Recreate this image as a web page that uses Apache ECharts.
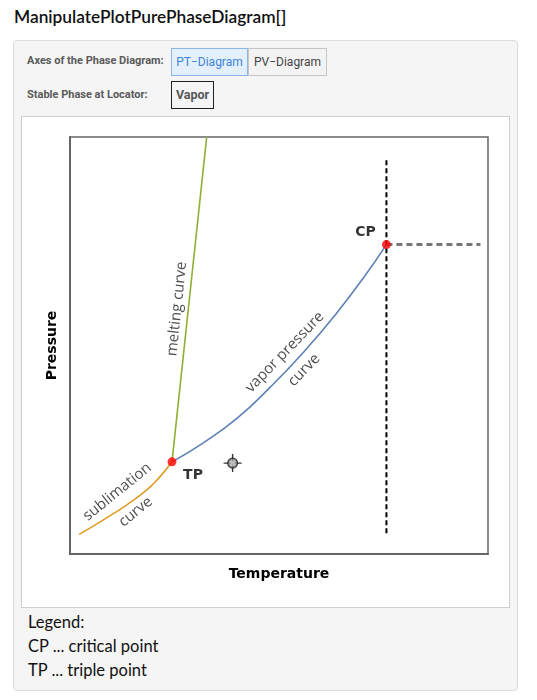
<!DOCTYPE html>
<html>
<head>
<meta charset="utf-8">
<script src="https://cdn.jsdelivr.net/npm/echarts@6/dist/echarts.min.js"></script>
<style>
  html, body { margin: 0; padding: 0; background: #fff; }
  body { width: 537px; height: 700px; position: relative; overflow: hidden; font-family: Lato, "Noto Sans", sans-serif; }
  #title { position: absolute; left: 14px; top: 6px; font-size: 17.3px; color: #111; font-family: Lato, sans-serif; font-weight: 600; }
  #panel { position: absolute; left: 13px; top: 40px; width: 503px; height: 649px; background: #f5f5f5; border: 1px solid #dcdcdc; border-radius: 4px; }
  .lbl { position: absolute; left: 27px; font-family: Roboto, sans-serif; font-weight: bold; font-size: 11px; color: #5a5a5a; }
  .btn { position: absolute; top: 48px; height: 26px; line-height: 26px; text-align: center; font-family: Roboto, sans-serif; font-size: 12px; box-sizing: content-box; }
  #bt1 { left: 171px; width: 75px; background: #e4effc; border: 1px solid #8db6e8; color: #3c84d6; }
  #bt2 { left: 248px; width: 77px; background: #f3f3f3; border: 1px solid #c6c6c6; color: #444; }
  #phase { position: absolute; left: 171px; top: 81px; width: 41px; height: 26px; line-height: 26px; border: 1px solid #222; text-align: center; font-family: Roboto, sans-serif; font-weight: bold; font-size: 12.5px; color: #555; }
  #box { position: absolute; left: 21px; top: 116px; width: 487px; height: 490px; background: #fff; border: 1px solid #cfcfcf; }
  #chart { position: absolute; left: 22px; top: 117px; width: 486px; height: 489px; }
  #legend { position: absolute; left: 28px; top: 610px; font-family: Lato, sans-serif; font-size: 16.5px; line-height: 24px; color: #111; }
</style>
</head>
<body>
<div id="title">ManipulatePlotPurePhaseDiagram[]</div>
<div id="panel"></div>
<div class="lbl" style="top:54px;">Axes of the Phase Diagram:</div>
<div class="btn" id="bt1">PT−Diagram</div>
<div class="btn" id="bt2">PV−Diagram</div>
<div class="lbl" style="top:88px;">Stable Phase at Locator:</div>
<div id="phase">Vapor</div>
<div id="box"></div>
<div id="chart"></div>
<div id="legend">Legend:<br>CP ... critical point<br>TP ... triple point</div>
<script>
// ---- data (arbitrary units: temperature 0..100, pressure 0..100) ----
var sublimationT = [2.2, 8.0, 13.6, 18.3, 21.5, 24.4];
var sublimationP = [4.7, 8.2, 11.8, 15.3, 18.5, 22.1];

var vaporT = [24.4, 31.8, 40.0, 47.8, 55.7, 63.9, 70.6, 75.7];
var vaporP = [22.1, 26.6, 32.6, 39.9, 48.2, 57.9, 66.8, 74.2];

var meltingT = [24.4, 32.7];
var meltingP = [22.1, 100];

var pointNames = ["TP", "CP"];
var pointT = [24.4, 75.7];
var pointP = [22.1, 74.2];

var criticalVertT = [75.7, 75.7];
var criticalVertP = [5.0, 95.0];
var criticalHorT = [75.7, 98.2];
var criticalHorP = [74.2, 74.2];

var locatorT = [38.9];
var locatorP = [21.8];

var curveLabels = ["melting curve", "vapor pressure", "curve", "sublimation", "curve"];
var curveLabelT = [25.6, 51.4, 56.0, 11.3, 15.7];
var curveLabelP = [58.8, 48.4, 44.1, 14.9, 10.1];
var curveLabelAngle = [84, 46, 46, 39, 39];

var axisNames = ["Temperature", "Pressure"];

function zip(a, b) { return a.map(function (v, i) { return [v, b[i]]; }); }

var chart = echarts.init(document.getElementById('chart'), null, { renderer: 'canvas' });

var labelData = curveLabels.map(function (t, i) {
  return {
    value: [curveLabelT[i], curveLabelP[i]],
    label: { show: true, formatter: t, rotate: curveLabelAngle[i] }
  };
});

var pointData = pointNames.map(function (n, i) {
  return {
    value: [pointT[i], pointP[i]],
    label: {
      show: true, formatter: n, position: 'inside',
      offset: n === 'CP' ? [-21, -12] : [21, 14],
      fontFamily: 'DejaVu Sans', fontWeight: 'bold', fontSize: 14, color: '#000'
    }
  };
});

var option = {
  animation: false,
  grid: { left: 48, top: 20, width: 418, height: 417, show: true, borderColor: '#666', borderWidth: 1.5, backgroundColor: 'transparent' },
  xAxis: {
    type: 'value', min: 0, max: 100,
    name: axisNames[0], nameLocation: 'middle', nameGap: 13,
    nameTextStyle: { fontFamily: 'DejaVu Sans', fontWeight: 'bold', fontSize: 14, color: '#000' },
    axisLine: { show: true, lineStyle: { color: '#666', width: 2 } },
    axisTick: { show: false }, axisLabel: { show: false }, splitLine: { show: false }
  },
  yAxis: {
    type: 'value', min: 0, max: 100,
    name: axisNames[1], nameLocation: 'middle', nameGap: 11,
    nameTextStyle: { fontFamily: 'DejaVu Sans', fontWeight: 'bold', fontSize: 14, color: '#000' },
    axisLine: { show: true, lineStyle: { color: '#666', width: 2 } },
    axisTick: { show: false }, axisLabel: { show: false }, splitLine: { show: false }
  },
  series: [
    {
      type: 'line', name: 'sublimation', data: zip(sublimationT, sublimationP),
      smooth: 0.5, showSymbol: false, lineStyle: { color: '#e19c24', width: 1.6 }, z: 3
    },
    {
      type: 'line', name: 'vapor', data: zip(vaporT, vaporP),
      smooth: 0.5, showSymbol: false, lineStyle: { color: '#5e81b5', width: 1.6 }, z: 3
    },
    {
      type: 'line', name: 'melting', data: zip(meltingT, meltingP),
      showSymbol: false, lineStyle: { color: '#8fb032', width: 1.6 }, z: 3
    },
    {
      type: 'line', name: 'critT', data: zip(criticalVertT, criticalVertP),
      showSymbol: false, lineStyle: { color: '#000', width: 2, type: [5, 3] }, z: 2
    },
    {
      type: 'line', name: 'critP', data: zip(criticalHorT, criticalHorP),
      showSymbol: false, lineStyle: { color: '#777', width: 3, type: [6, 4] }, z: 2
    },
    {
      type: 'scatter', name: 'points', data: pointData,
      symbol: 'circle', symbolSize: 9, itemStyle: { color: '#ff0000' }, z: 5
    },
    {
      type: 'scatter', name: 'curveLabels', data: labelData, symbolSize: 0, silent: true,
      label: { position: 'inside', fontFamily: 'Open Sans', fontSize: 15, color: '#222', align: 'center', verticalAlign: 'middle' },
      z: 6
    },
    {
      type: 'scatter', name: 'locatorCross', data: zip(locatorT, locatorP),
      symbol: 'path://M0,8.3h18v1.4h-18z M8.3,0h1.4v18h-1.4z', symbolSize: 18,
      itemStyle: { color: '#000' }, z: 7
    },
    {
      type: 'scatter', name: 'locatorRing', data: zip(locatorT, locatorP),
      symbol: 'circle', symbolSize: 10,
      itemStyle: {
        color: { type: 'radial', x: 0.5, y: 0.5, r: 0.5, colorStops: [
          { offset: 0, color: '#eeeeee' }, { offset: 0.5, color: '#a8a8a8' }, { offset: 1, color: '#333' } ] },
        borderColor: '#222', borderWidth: 1.2
      }, z: 8
    }
  ]
};
chart.setOption(option);
</script>
</body>
</html>
